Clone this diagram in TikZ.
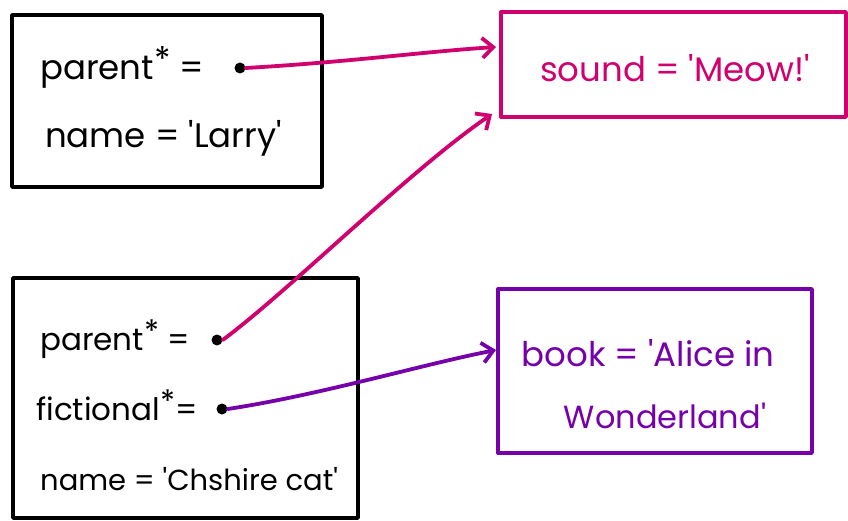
\documentclass[tikz,border=0pt]{standalone}
\usepackage{fontspec}
\setmainfont{Poppins}
\usetikzlibrary{arrows.meta}
\definecolor{pinkc}{RGB}{208,0,110}
\definecolor{purpc}{RGB}{118,0,170}
\tikzset{
  box/.style={draw, rectangle, line width=3.4pt, line join=round, inner sep=0pt},
  lbl/.style={anchor=base west, inner sep=0pt, font=\fontsize{34}{40}\selectfont},
  lblc/.style={lbl, font=\fontsize{31}{36}\selectfont},
  dotnode/.style={circle, fill=black, inner sep=0pt, minimum size=11pt},
  link/.style={line width=3.8pt, line cap=round, -{Straight Barb[length=11pt,width=20pt,line width=3.8pt]}},
}
\newcommand{\myast}{\raisebox{0.45ex}{*}}
\newcommand{\q}{\textquotesingle}
\begin{document}
\begin{tikzpicture}[x=1pt,y=-1pt]
\useasboundingbox (0,0) rectangle (848,521);
% boxes
\node[box, minimum width=310pt, minimum height=172pt] (larry) at (167,101) {};
\node[box, draw=pinkc, minimum width=345pt, minimum height=105pt] (meow) at (673.5,64.5) {};
\node[box, minimum width=345pt, minimum height=240pt] (chesh) at (185.5,398) {};
\node[box, draw=purpc, minimum width=314pt, minimum height=164pt] (alice) at (655,371) {};
% texts
\node[lbl] (lp) at (40,80) {parent\myast\ =};
\node[lbl] (ln) at (45,148) {name = \q Larry\q};
\node[lbl, text=pinkc, anchor=base] (ms) at (675,82) {sound = \q Meow!\q};
\node[lblc] (cp) at (40,350) {parent\myast\ =};
\node[lblc] (cf) at (36,420) {fictional\myast =};
\node[lbl, font=\fontsize{29}{34}\selectfont] (cn) at (40,490) {name = \q Chshire cat\q};
\node[lbl, text=purpc, anchor=base] (ab) at (648,366) {book = \q Alice in};
\node[lbl, text=purpc, anchor=base, font=\fontsize{32}{38}\selectfont] (aw) at (665,428) {Wonderland\q};
% dots
\node[dotnode] (d1) at (240,68) {};
\node[dotnode] (d2) at (217,340) {};
\node[dotnode] (d3) at (222,409) {};
% arrow ends
\coordinate (e1) at (496,47);
\coordinate (e2) at (492,114);
\coordinate (e3) at (496,350);
\draw[link, pinkc] (d1.east) .. controls (350,62) and (420,52) .. (e1);
\draw[link, pinkc] (d2.east) .. controls (290,290) and (410,170) .. (e2);
\draw[link, purpc] (d3.east) .. controls (320,395) and (420,365) .. (e3);
\end{tikzpicture}
\end{document}
